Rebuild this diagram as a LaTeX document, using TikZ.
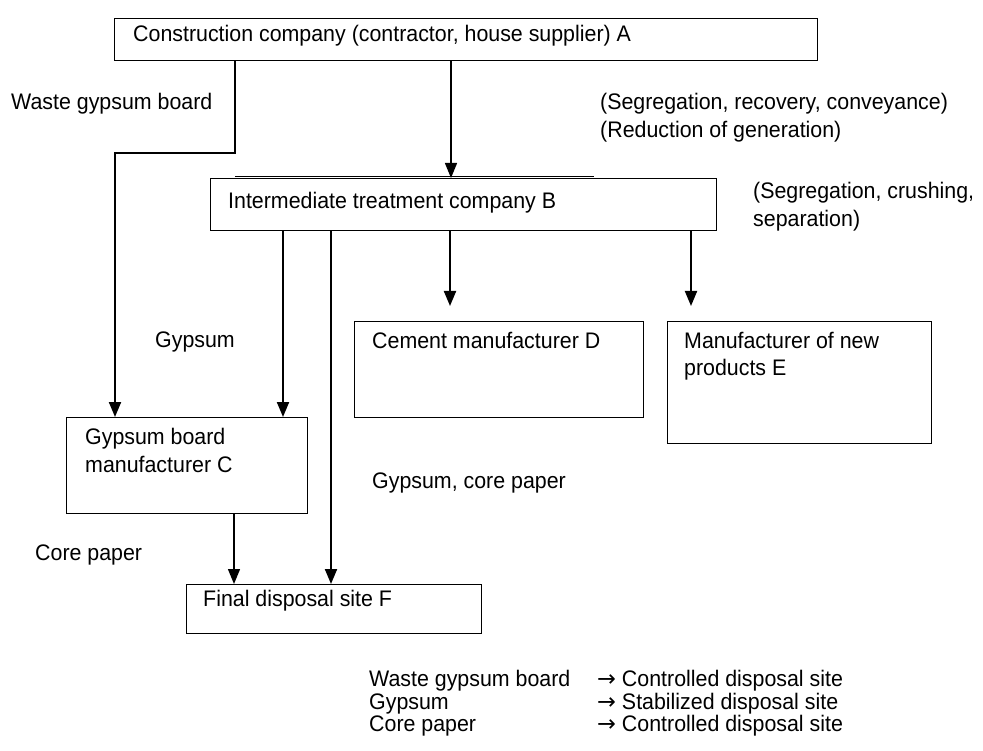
\documentclass[tikz,border=0pt]{standalone}
\usepackage{fontspec}
\setmainfont{Liberation Sans}[FakeStretch=0.95]
\newfontfamily\arrowfont{DejaVu Sans}
\usetikzlibrary{arrows.meta,positioning}

\begin{document}
\begin{tikzpicture}[
  x=1pt, y=-1pt,
  box/.style={draw, line width=1.2pt, anchor=north west, inner sep=0pt},
  txt/.style={anchor=north west, inner sep=0pt, align=left, font=\fontsize{22.5}{27.5}\selectfont},
  legend/.style={txt, font=\fontsize{22.5}{22.5}\selectfont},
  arr/.style={-{Triangle[width=12pt,length=15pt]}, line width=2pt},
  thinarr/.style={-{Triangle[width=12pt,length=15pt]}, line width=1.3pt}
]
\useasboundingbox (0,0) rectangle (983,751);

% boxes
\node[box, minimum width=703pt, minimum height=42pt] (A) at (114,18) {};
\node[box, minimum width=506pt, minimum height=52pt] (B) at (210,178) {};
\node[box, minimum width=241pt, minimum height=96pt] (C) at (66,417) {};
\node[box, minimum width=289pt, minimum height=96pt] (D) at (354,321) {};
\node[box, minimum width=264pt, minimum height=122pt] (E) at (667,321) {};
\node[box, minimum width=295pt, minimum height=49pt] (F) at (186,584) {};

% box texts
\node[txt] (Atxt) at (133,25) {Construction company (contractor, house supplier) A};
\node[txt] (Btxt) at (228,192) {Intermediate treatment company B};
\node[txt] (Ctxt) at (85,428) {Gypsum board\\manufacturer C};
\node[txt] (Dtxt) at (372,332) {Cement manufacturer D};
\node[txt] (Etxt) at (684,332) {Manufacturer of new\\products E};
\node[txt] (Ftxt) at (203,590) {Final disposal site F};

% free labels
\node[txt] (waste) at (11,93) {Waste gypsum board};
\node[txt] (segA) at (600,93) {(Segregation, recovery, conveyance)\\(Reduction of generation)};
\node[txt] (segB) at (753,182) {(Segregation, crushing,\\separation)};
\node[txt] (gyp) at (155,332) {Gypsum};
\node[txt] (gypcore) at (372,473) {Gypsum, core paper};
\node[txt] (core) at (35,545) {Core paper};
\node[legend] (legkeys) at (369,670) {Waste gypsum board\\Gypsum\\Core paper};
\node[legend] (legvals) at (597,670)
  {{\arrowfont →} Controlled disposal site\\{\arrowfont →} Stabilized disposal site\\{\arrowfont →} Controlled disposal site};

% connectors
\coordinate (jogR) at (235,153);
\coordinate (jogL) at (115,153);
\draw[arr] (A.south -| jogR) -- (jogR) -- (jogL) -- (C.north -| jogL);
\draw[thinarr] (A.south -| 451,0) -- (B.north -| 451,0);
\draw[line width=0.8pt] (B.north -| jogR) ++(0,-2) coordinate (stray) -- (stray -| 594,0);
\draw[arr] (B.south -| 283,0) -- (C.north -| 283,0);
\draw[arr] (B.south -| 331,0) -- (F.north -| 331,0);
\draw[arr] (B.south -| 450,0) -- ([yshift=15pt]D.north -| 450,0);
\draw[arr] (B.south -| 691,0) -- ([yshift=15pt]E.north -| 691,0);
\draw[thinarr] (C.south -| 234,0) -- (F.north -| 234,0);
\end{tikzpicture}
\end{document}
